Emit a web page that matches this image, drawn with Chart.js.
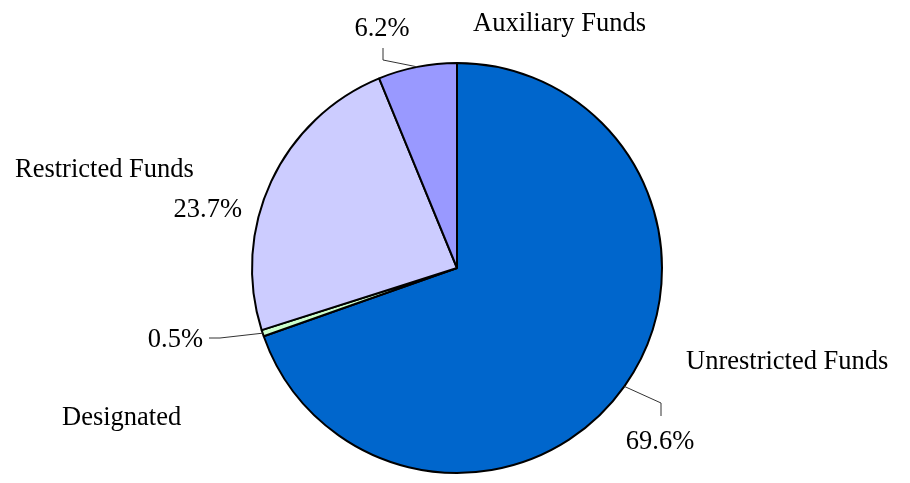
<!DOCTYPE html>
<html>
<head>
<meta charset="utf-8">
<script src="https://cdn.jsdelivr.net/npm/chart.js@4/dist/chart.umd.min.js"></script>
<style>
  html, body { margin: 0; padding: 0; background: #fff; }
  #wrap { width: 910px; height: 483px; }
</style>
</head>
<body>
<div id="wrap"><canvas id="fundsPie" width="910" height="483"></canvas></div>
<script>
var categories = ["Unrestricted Funds", "Designated", "Restricted Funds", "Auxiliary Funds"];
var shares = [69.6, 0.5, 23.7, 6.2];
var sliceColors = ["#0066CC", "#CCFFCC", "#CCCCFF", "#9999FF"];

// where the texts sit for each slice: name label, value label, leader elbow (null = no line)
var labelSpots = [
    { name: [686, 362, "left"], value: [660, 442, "center"], elbow: [[661, 403], [661, 416]] },
    { name: [62, 418, "left"], value: [203, 340, "right"], elbow: [[220, 338], [209, 338]] },
    { name: [15, 170, "left"], value: [242, 210, "right"], elbow: null },
    { name: [473, 24, "left"], value: [382, 29, "center"], elbow: [[383, 60], [383, 48]] }
];

var outsideLabels = {
    id: "outsideLabels",
    afterDraw: function(chart) {
        var ctx = chart.ctx;
        var meta = chart.getDatasetMeta(0);
        ctx.save();
        ctx.font = "26.5px 'Liberation Serif', 'Times New Roman', serif";
        ctx.fillStyle = "#000";
        ctx.textBaseline = "middle";
        meta.data.forEach(function(arc, i) {
            var spot = labelSpots[i];
            var mid = (arc.startAngle + arc.endAngle) / 2;
            var ex = arc.x + Math.cos(mid) * arc.outerRadius;
            var ey = arc.y + Math.sin(mid) * arc.outerRadius;
            if (spot.elbow) {
                ctx.strokeStyle = "#333";
                ctx.lineWidth = 1;
                ctx.beginPath();
                ctx.moveTo(ex, ey);
                spot.elbow.forEach(function(p) { ctx.lineTo(p[0], p[1]); });
                ctx.stroke();
            }
            ctx.textAlign = spot.name[2];
            ctx.fillText(categories[i], spot.name[0], spot.name[1]);
            ctx.textAlign = spot.value[2];
            ctx.fillText(shares[i].toFixed(1) + "%", spot.value[0], spot.value[1]);
        });
        ctx.restore();
    }
};

var ctx = document.getElementById("fundsPie").getContext("2d");
var myChart = new Chart(ctx, {
    type: "pie",
    data: {
        labels: categories,
        datasets: [{
            data: shares,
            backgroundColor: sliceColors,
            borderColor: "#000",
            borderWidth: 2,
            borderAlign: "center"
        }]
    },
    options: {
        responsive: false,
        animation: false,
        radius: 205,
        layout: { padding: { left: 4, right: 0, top: 53, bottom: 0 } },
        plugins: {
            legend: { display: false },
            tooltip: { enabled: false }
        }
    },
    plugins: [outsideLabels]
});
</script>
</body>
</html>
